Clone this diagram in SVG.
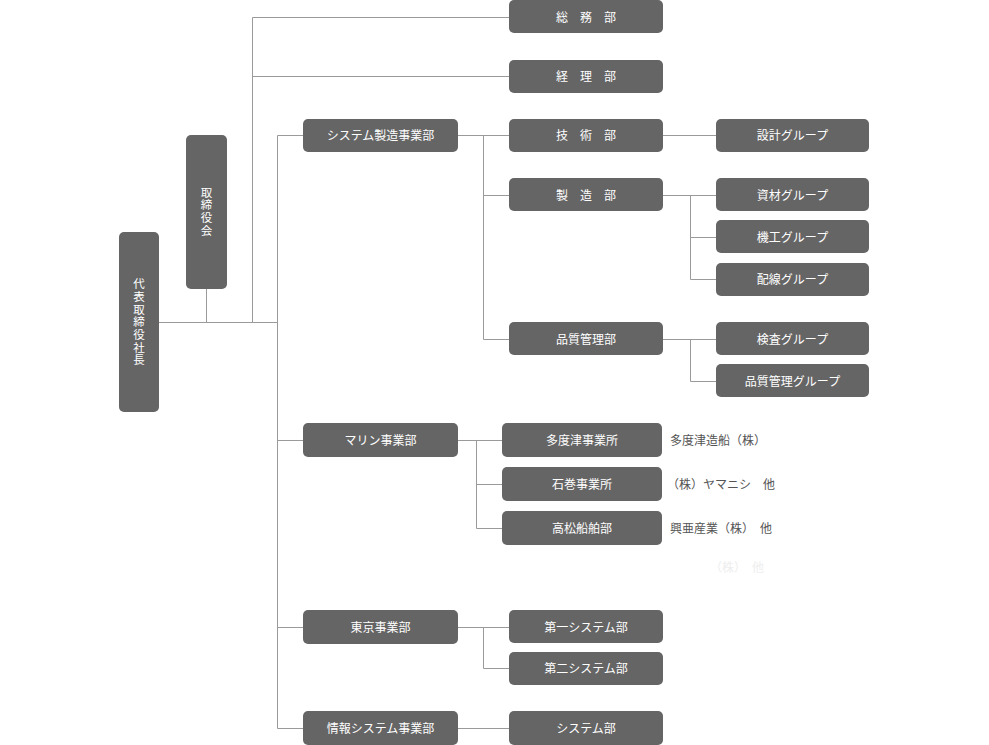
<svg xmlns="http://www.w3.org/2000/svg" width="989" height="745" viewBox="0 0 989 745">
<style>
.b{fill:#656565;}
.t{fill:#ffffff;font-family:"Noto Sans CJK JP","Noto Sans",sans-serif;font-size:12px;text-anchor:middle;}
.v{fill:#ffffff;font-family:"Noto Sans CJK JP","Noto Sans",sans-serif;font-size:11.5px;text-anchor:middle;writing-mode:vertical-rl;letter-spacing:1.2px;}
.n{fill:#555555;font-family:"Noto Sans CJK JP","Noto Sans",sans-serif;font-size:12px;}
.l{stroke:#9a9a9a;stroke-width:1;fill:none;}
</style>
<rect width="989" height="745" fill="#ffffff"/>
<g id="connectors" class="l">
<path d="M159,322.5H277.5M206.5,289V322.5M252.5,17.5V322.5M252.5,17.5H509M252.5,76.5H509"/>
<path d="M277.5,135.5V728.5M277.5,135.5H303M277.5,440.5H303M277.5,627.5H303M277.5,728.5H303"/>
<path d="M458,135.5H509M483.5,135.5V339.5M483.5,195.5H509M483.5,339.5H509"/>
<path d="M663,135.5H716M663,195.5H716M690.5,195.5V279.5M690.5,237.5H716M690.5,279.5H716M663,339.5H716M690.5,339.5V381.5H716"/>
<path d="M458,440.5H502M476.5,440.5V528.5M476.5,484.5H502M476.5,528.5H502"/>
<path d="M458,627.5H509M483.5,627.5V668.5H509M458,728.5H509"/>
</g>
<g id="president"><rect class="b" x="119" y="232" width="40" height="180" rx="5"/>
<text class="v" x="139" y="322.5">代表取締役社長</text></g>
<g id="board"><rect class="b" x="186" y="135" width="41" height="154" rx="5"/>
<text class="v" x="206.5" y="212">取締役会</text></g>
<g id="soumu"><rect class="b" x="509" y="0" width="154" height="33" rx="5"/><text class="t" x="586" y="21.5">総　務　部</text></g>
<g id="keiri"><rect class="b" x="509" y="60" width="154" height="33" rx="5"/><text class="t" x="586" y="81">経　理　部</text></g>
<g id="sysmfg"><rect class="b" x="303" y="119" width="155" height="33" rx="5"/><text class="t" x="380.5" y="140">システム製造事業部</text></g>
<g id="gijutsu"><rect class="b" x="509" y="119" width="154" height="33" rx="5"/><text class="t" x="586" y="140">技　術　部</text></g>
<g id="seizou"><rect class="b" x="509" y="178" width="154" height="33" rx="5"/><text class="t" x="586" y="199.5">製　造　部</text></g>
<g id="hinkan"><rect class="b" x="509" y="322" width="154" height="33" rx="5"/><text class="t" x="586" y="343.5">品質管理部</text></g>
<g id="sekkei"><rect class="b" x="716" y="119" width="153" height="33" rx="5"/><text class="t" x="792.5" y="140">設計グループ</text></g>
<g id="shizai"><rect class="b" x="716" y="178" width="153" height="33" rx="5"/><text class="t" x="792.5" y="199.5">資材グループ</text></g>
<g id="kikou"><rect class="b" x="716" y="220" width="153" height="33" rx="5"/><text class="t" x="792.5" y="241.5">機工グループ</text></g>
<g id="haisen"><rect class="b" x="716" y="263" width="153" height="33" rx="5"/><text class="t" x="792.5" y="284">配線グループ</text></g>
<g id="kensa"><rect class="b" x="716" y="322" width="153" height="33" rx="5"/><text class="t" x="792.5" y="343.5">検査グループ</text></g>
<g id="hinkang"><rect class="b" x="716" y="364" width="153" height="33" rx="5"/><text class="t" x="792.5" y="385.5">品質管理グループ</text></g>
<g id="marine"><rect class="b" x="303" y="423" width="155" height="34" rx="5"/><text class="t" x="380.5" y="444.5">マリン事業部</text></g>
<g id="tadotsu"><rect class="b" x="502" y="423" width="160" height="34" rx="5"/><text class="t" x="582" y="444.5">多度津事業所</text></g>
<g id="ishinomaki"><rect class="b" x="502" y="467" width="160" height="34" rx="5"/><text class="t" x="582" y="488.5">石巻事業所</text></g>
<g id="takamatsu"><rect class="b" x="502" y="511" width="160" height="34" rx="5"/><text class="t" x="582" y="532.5">高松船舶部</text></g>
<g id="notes">
<text class="n" x="670" y="444.5">多度津造船（株）</text>
<text class="n" x="667" y="488.5">（株）ヤマニシ　他</text>
<text class="n" x="670" y="532.5">興亜産業（株）　他</text>
<text class="n" x="710" y="571.5" style="fill:#eeeeee">（株）　他</text>
</g>
<g id="tokyo"><rect class="b" x="303" y="610" width="155" height="34" rx="5"/><text class="t" x="380.5" y="631.5">東京事業部</text></g>
<g id="daiichi"><rect class="b" x="509" y="610" width="154" height="33" rx="5"/><text class="t" x="586" y="631.5">第一システム部</text></g>
<g id="daini"><rect class="b" x="509" y="652" width="154" height="33" rx="5"/><text class="t" x="586" y="673">第二システム部</text></g>
<g id="joho"><rect class="b" x="303" y="711" width="155" height="34" rx="5"/><text class="t" x="380.5" y="732.5">情報システム事業部</text></g>
<g id="system"><rect class="b" x="509" y="711" width="154" height="34" rx="5"/><text class="t" x="586" y="732.5">システム部</text></g>
</svg>
